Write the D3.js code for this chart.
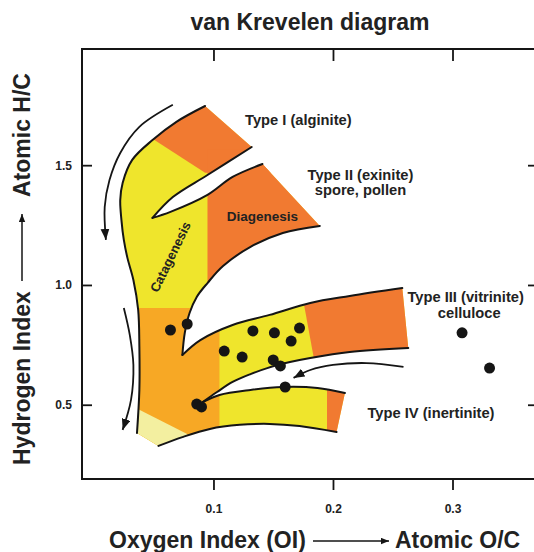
<!DOCTYPE html>
<html><head><meta charset="utf-8">
<script src="https://cdn.jsdelivr.net/npm/d3@7"></script>
<style>
body{margin:0;background:#fff}
svg{display:block}
text{font-family:"Liberation Sans",Arial,Helvetica,sans-serif;font-weight:bold;fill:#222}
</style>
</head><body>
<svg id="chart" width="534" height="552"></svg>
<script>
// ---------- data (atomic O/C, atomic H/C) ----------
const xTicks = [0.1, 0.2, 0.3];
const yTicks = [0.5, 1.0, 1.5];

const outerEdge   = [[0.093,1.747],[0.069,1.681],[0.049,1.605],[0.032,1.522],[0.024,1.426],[0.022,1.355],[0.023,1.271],[0.025,1.188],[0.028,1.113],[0.033,1.021],[0.037,0.896],[0.038,0.741],[0.038,0.562],[0.036,0.382]];
const typeILower  = [[0.049,1.280],[0.066,1.367],[0.095,1.459],[0.132,1.576]];
const typeIIUpper = [[0.049,1.280],[0.064,1.305],[0.095,1.376],[0.116,1.451],[0.141,1.505]];
const typeIILower = [[0.074,0.708],[0.076,0.800],[0.080,0.883],[0.086,0.950],[0.095,1.008],[0.108,1.079],[0.131,1.159],[0.158,1.217],[0.189,1.246]];
const typeIIIUpper= [[0.074,0.708],[0.089,0.770],[0.116,0.833],[0.147,0.875],[0.181,0.925],[0.214,0.954],[0.258,0.987]];
const typeIIILower= [[0.091,0.511],[0.103,0.553],[0.116,0.595],[0.131,0.628],[0.145,0.653],[0.164,0.678],[0.181,0.695],[0.214,0.720],[0.263,0.737]];
const typeIVUpper = [[0.091,0.511],[0.105,0.541],[0.131,0.562],[0.158,0.574],[0.187,0.570],[0.210,0.549]];
const typeIVLower = [[0.054,0.328],[0.074,0.365],[0.097,0.399],[0.122,0.416],[0.147,0.420],[0.172,0.411],[0.203,0.386]];

// colour zones (clipped by the bands)
const zoneOrangeI   = [[0.043,1.814],[0.049,1.610],[0.093,1.468],[0.156,1.468],[0.156,1.814]];
const zoneOrangeII  = [[0.095,1.564],[0.206,1.564],[0.206,1.146],[0.095,0.937]];
const zoneAmber     = [[0.005,0.904],[0.105,0.904],[0.105,0.228],[0.005,0.228]];
const zonePale      = [[0.005,0.562],[0.078,0.378],[0.078,0.228],[0.005,0.228]];
const zoneOrangeIII = [[0.172,1.021],[0.290,1.021],[0.290,0.666],[0.185,0.666]];
const zoneOrangeIV  = [[0.195,0.645],[0.231,0.645],[0.231,0.311],[0.195,0.311]];

// arrows
const arrowCatagenesis = [[0.066,1.752],[0.038,1.660],[0.022,1.551],[0.013,1.438],[0.009,1.326],[0.010,1.188]];
const arrowLower       = [[0.025,0.904],[0.030,0.791],[0.033,0.666],[0.031,0.520],[0.024,0.395]];
const arrowReturn      = [[0.259,0.658],[0.228,0.674],[0.200,0.666],[0.181,0.645],[0.167,0.612]];

// samples
const sampleOC = [0.064,0.078,0.109,0.124,0.133,0.151,0.172,0.165,0.150,0.156,0.160,0.086,0.090,0.308,0.331];
const sampleHC = [0.812,0.837,0.724,0.699,0.808,0.800,0.820,0.766,0.687,0.662,0.574,0.503,0.491,0.800,0.653];

// annotations
const labelText = ["Type I (alginite)","Type II (exinite)","spore, pollen","Type III (vitrinite)","celluloce","Type IV (inertinite)"];
const labelOC   = [0.171,0.223,0.223,0.311,0.314,0.282];
const labelHC   = [1.668,1.438,1.376,0.929,0.862,0.445];

// ---------- drawing ----------
const svg = d3.select("#chart");
const L = 82, R = 537, T = 49, B = 479;
const x = d3.scaleLinear().domain([-0.010, 0.3707]).range([L, R]);
const y = d3.scaleLinear().domain([0.190, 1.985]).range([B, T]);

const C = {orange:"#f17a31", yellow:"#efe52c", amber:"#f7a825", pale:"#f3efa0", ink:"#151515"};

const curve = d3.line().x(d=>x(d[0])).y(d=>y(d[1])).curve(d3.curveCatmullRom.alpha(0.5));
const poly  = d3.line().x(d=>x(d[0])).y(d=>y(d[1]));
const seg = pts => curve(pts).replace(/^M/, "L");
const rev = a => a.slice().reverse();

const shapePath = curve(outerEdge) + seg(typeIVLower) + seg(rev(typeIVUpper)) + seg(typeIIILower)
  + seg(rev(typeIIIUpper)) + seg(typeIILower) + seg(rev(typeIIUpper)) + seg(typeILower) + "Z";

const defs = svg.append("defs");
defs.append("clipPath").attr("id","bands").append("path").attr("d", shapePath);
defs.append("marker").attr("id","head").attr("viewBox","0 0 10 8").attr("refX",10).attr("refY",4)
  .attr("markerWidth",11).attr("markerHeight",9).attr("markerUnits","userSpaceOnUse").attr("orient","auto")
  .append("path").attr("d","M0,0L10,4L0,8Z").attr("fill",C.ink);
defs.append("marker").attr("id","headS").attr("viewBox","0 0 10 8").attr("refX",10).attr("refY",4)
  .attr("markerWidth",8).attr("markerHeight",7).attr("markerUnits","userSpaceOnUse").attr("orient","auto")
  .append("path").attr("d","M0,0L10,4L0,8Z").attr("fill",C.ink);

// bands
svg.append("path").attr("d", shapePath).attr("fill", C.yellow);
const zg = svg.append("g").attr("clip-path","url(#bands)");
[[zoneOrangeI,C.orange],[zoneOrangeII,C.orange],[zoneAmber,C.amber],[zonePale,C.pale],[zoneOrangeIII,C.orange],[zoneOrangeIV,C.orange]]
  .forEach(([z,c]) => zg.append("path").attr("d", poly(z)+"Z").attr("fill", c));

// outlines
const og = svg.append("g").attr("fill","none").attr("stroke",C.ink).attr("stroke-width",2).attr("stroke-linecap","round");
[outerEdge,typeILower,typeIIUpper,typeIILower,typeIIIUpper,typeIIILower,typeIVUpper,typeIVLower]
  .forEach(p => og.append("path").attr("d", curve(p)));

// arrows
const ag = svg.append("g").attr("fill","none").attr("stroke",C.ink).attr("stroke-width",1.8);
[arrowCatagenesis, arrowLower, arrowReturn].forEach(p => ag.append("path").attr("d", curve(p)).attr("marker-end","url(#head)"));

// samples
svg.append("g").selectAll("circle").data(sampleOC).join("circle")
  .attr("cx", d=>x(d)).attr("cy", (d,i)=>y(sampleHC[i])).attr("r",5.5).attr("fill",C.ink);

// labels
svg.append("g").selectAll("text").data(labelText).join("text")
  .attr("x",(d,i)=>x(labelOC[i])).attr("y",(d,i)=>y(labelHC[i]))
  .attr("text-anchor","middle").attr("font-size",14.7).text(d=>d);
svg.append("text").attr("x",x(0.141)).attr("y",y(1.267)).attr("text-anchor","middle").attr("font-size",13.5).text("Diagenesis");
svg.append("text").attr("transform",`translate(${x(0.064)},${y(1.117)}) rotate(-64)`)
  .attr("text-anchor","middle").attr("dominant-baseline","central").attr("font-size",13).text("Catagenesis");

// axes
const fmt = d3.format(".1f");
const styleAxis = g => { g.select(".domain").remove(); g.selectAll("line").attr("stroke",C.ink).attr("stroke-width",1.8);
  g.attr("font-size",12).attr("font-family",null); g.selectAll("text").attr("fill","#222"); };
svg.append("g").attr("transform",`translate(0,${B})`).call(d3.axisBottom(x).tickValues(xTicks).tickSize(11).tickPadding(14).tickFormat(fmt)).call(styleAxis);
svg.append("g").attr("transform",`translate(0,${T})`).call(d3.axisTop(x).tickValues(xTicks).tickSize(-12).tickFormat(()=>"")).call(styleAxis);
svg.append("g").attr("transform",`translate(${L},0)`).call(d3.axisLeft(y).tickValues(yTicks).tickSize(-10).tickPadding(10).tickFormat(fmt)).call(styleAxis);
svg.append("g").attr("transform",`translate(${R},0)`).call(d3.axisRight(y).tickValues(yTicks).tickSize(-9).tickFormat(()=>"")).call(styleAxis);
svg.append("rect").attr("x",L).attr("y",T).attr("width",R-L).attr("height",B-T).attr("fill","none").attr("stroke",C.ink).attr("stroke-width",2);

// titles
svg.append("text").attr("x",310).attr("y",30).attr("text-anchor","middle").attr("font-size",23).text("van Krevelen diagram");
svg.append("text").attr("x",109).attr("y",548).attr("font-size",23).text("Oxygen Index (OI)");
svg.append("line").attr("x1",313).attr("x2",389).attr("y1",541).attr("y2",541).attr("stroke",C.ink).attr("stroke-width",1.5).attr("marker-end","url(#headS)");
svg.append("text").attr("x",395).attr("y",548).attr("font-size",23).text("Atomic O/C");
svg.append("text").attr("transform","translate(30,465) rotate(-90)").attr("font-size",23).text("Hydrogen Index");
svg.append("line").attr("x1",22).attr("x2",22).attr("y1",281).attr("y2",214).attr("stroke",C.ink).attr("stroke-width",1.5).attr("marker-end","url(#headS)");
svg.append("text").attr("transform","translate(30,197) rotate(-90)").attr("font-size",23).text("Atomic H/C");
</script>
</body></html>
